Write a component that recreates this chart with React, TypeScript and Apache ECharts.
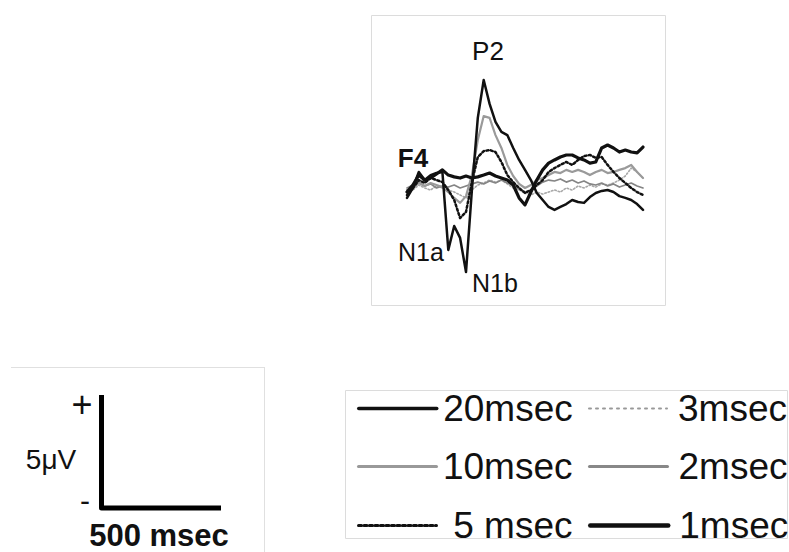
import React, { useEffect, useRef } from 'react';
import * as echarts from 'echarts';

const FONT = '"Liberation Sans", Arial, Helvetica, sans-serif';

// time axis (ms), shared by all traces
const TIMES = [-100, -75, -50, -25, 0, 25, 50, 75, 100, 125, 150, 175, 200, 225, 250, 275, 300, 325, 350, 375, 400, 425, 450, 475, 500, 525, 550, 575, 600, 625, 650, 675, 700, 725, 750, 775, 800, 825, 850, 875, 900];

// amplitudes (µV), positive up
const V20 = [-0.66, -0.22, 0.49, 0.13, 0.35, 0.44, 0.49, -2.96, -1.9, -2.43, -3.94, -0.31, 2.88, 4.56, 3.5, 2.7, 2.26, 2.12, 1.55, 1.02, 0.58, 0.13, -0.44, -0.75, -1.06, -1.19, -1.06, -0.93, -0.75, -0.84, -0.88, -0.62, -0.44, -0.35, -0.31, -0.4, -0.58, -0.66, -0.75, -0.93, -1.19];
const V10 = [-0.31, -0.22, 0, -0.13, 0, -0.09, -0.18, -0.4, -0.66, -0.88, -0.58, 0.35, 1.9, 2.96, 2.88, 2.12, 1.55, 0.8, 0.31, -0.04, -0.22, -0.09, 0.13, 0.22, 0.35, 0.49, 0.44, 0.58, 0.49, 0.58, 0.49, 0.35, 0.49, 0.58, 0.44, 0.49, 0.58, 0.66, 0.8, 0.49, 0.22];
const V5 = [-0.53, -0.22, 0.13, 0, 0.22, 0.13, 0.04, -0.31, -0.75, -1.55, -1.28, 0.04, 1.15, 1.41, 1.46, 1.37, 0.93, 0.35, 0.04, -0.22, -0.44, -0.31, -0.09, 0.13, 0.49, 0.66, 0.8, 0.93, 0.8, 1.02, 1.19, 1.24, 1.11, 1.15, 0.8, 0.49, 0.22, 0, -0.22, -0.4, -0.53];
const V3 = [-0.44, -0.31, -0.09, -0.22, -0.31, -0.13, -0.22, -0.31, -0.4, -0.53, -0.66, -0.31, -0.09, 0, 0.13, 0.04, 0.13, -0.04, -0.22, -0.31, -0.44, -0.53, -0.4, -0.49, -0.4, -0.31, -0.4, -0.22, -0.31, -0.13, -0.22, -0.09, -0.18, -0.04, -0.09, 0, 0.13, 0.31, 0.66, 0.49, 0.22];
const V2 = [-0.22, -0.09, 0.04, -0.13, -0.04, -0.22, -0.13, -0.18, -0.09, -0.22, -0.13, -0.04, 0.04, -0.04, 0.09, 0, 0.13, 0, -0.09, -0.27, -0.4, -0.31, -0.13, 0.04, 0.13, 0.09, 0.18, 0.04, 0.13, 0, 0.09, -0.04, -0.09, 0, -0.13, -0.04, -0.18, -0.09, 0, -0.13, -0.22];
const V1 = [-0.4, -0.09, 0.35, 0.13, 0.22, 0.4, 0.58, 0.35, 0.27, 0.22, 0.31, 0.22, 0.27, 0.35, 0.44, 0.31, 0.22, 0.13, -0.09, -0.66, -0.97, -0.4, 0.13, 0.58, 0.88, 1.02, 1.15, 1.24, 1.24, 1.11, 1.02, 0.88, 0.93, 1.55, 1.68, 1.55, 1.37, 1.46, 1.37, 1.33, 1.59];

const NAMES = ['20msec', '3msec', '10msec', '2msec', '5 msec', '1msec'];

const pairs = (vals: number[]) => TIMES.map((t, i) => [t, vals[i]]);

export default function App() {
  const ref = useRef<HTMLDivElement>(null);

  useEffect(() => {
    if (!ref.current) return;
    const chart = echarts.init(ref.current, null, { renderer: 'svg' });

    const traces = [
      { name: NAMES[1], data: V3, color: '#a8a8a8', width: 1.6, type: [1.5, 2] as any },
      { name: NAMES[3], data: V2, color: '#858585', width: 1.7, type: 'solid' as any },
      { name: NAMES[2], data: V10, color: '#9a9a9a', width: 2.2, type: 'solid' as any },
      { name: NAMES[4], data: V5, color: '#111', width: 2.5, type: [2, 2.5] as any },
      { name: NAMES[0], data: V20, color: '#111', width: 2.5, type: 'solid' as any },
      { name: NAMES[5], data: V1, color: '#111', width: 3.2, type: 'solid' as any },
    ];

    const legendSpec = [
      { name: NAMES[0], left: 357, top: 390, tw: 131, color: '#111', width: 3.5, type: 'solid' as any },
      { name: NAMES[2], left: 357, top: 448, tw: 131, color: '#999', width: 3, type: 'solid' as any },
      { name: NAMES[4], left: 357, top: 507, tw: 131, color: '#111', width: 3, type: [3, 2.5] as any },
      { name: NAMES[1], left: 588, top: 390, tw: 115, color: '#999', width: 2, type: [2, 5] as any },
      { name: NAMES[3], left: 588, top: 448, tw: 115, color: '#888', width: 3, type: 'solid' as any },
      { name: NAMES[5], left: 588, top: 507, tw: 115, color: '#111', width: 4.5, type: 'solid' as any },
    ];

    const txt = (text: string, x: number, y: number, size: number, bold = false) => ({
      type: 'text',
      x,
      y,
      silent: true,
      style: {
        text,
        fill: '#111',
        fontSize: size,
        fontWeight: bold ? 'bold' : 'normal',
        fontFamily: FONT,
        align: 'center',
        verticalAlign: 'middle',
        textAlign: 'center',
        textVerticalAlign: 'middle',
      },
    });

    chart.setOption({
      animation: false,
      backgroundColor: '#fff',
      grid: { left: 407, top: 70, width: 236, height: 226, containLabel: false },
      xAxis: { type: 'value', min: -100, max: 900, show: false },
      yAxis: { type: 'value', min: -5, max: 5, show: false },
      legend: legendSpec.map((l) => ({
        data: [l.name],
        left: l.left,
        top: l.top,
        padding: 0,
        itemWidth: 78,
        itemHeight: 40,
        selectedMode: false,
        itemStyle: { opacity: 0 },
        lineStyle: { color: l.color, width: l.width, type: l.type },
        formatter: '{a|{name}}',
        textStyle: {
          rich: {
            a: {
              width: l.tw,
              align: 'right',
              fontSize: 37,
              lineHeight: 40,
              fontFamily: FONT,
              color: '#111',
            },
          },
        },
      })),
      series: traces.map((s) => ({
        name: s.name,
        type: 'line',
        data: pairs(s.data),
        symbol: 'none',
        smooth: false,
        silent: true,
        lineStyle: { color: s.color, width: s.width, type: s.type, join: 'round', cap: 'round' },
        itemStyle: { color: s.color },
        z: 2,
      })),
      graphic: [
        { type: 'rect', silent: true, shape: { x: 371.5, y: 15.5, width: 294, height: 290 }, style: { fill: 'none', stroke: '#dcdcdc', lineWidth: 1 } },
        { type: 'rect', silent: true, shape: { x: 345.5, y: 390.5, width: 442, height: 148 }, style: { fill: 'none', stroke: '#dcdcdc', lineWidth: 1 } },
        { type: 'line', silent: true, shape: { x1: 11, y1: 367.5, x2: 264.5, y2: 367.5 }, style: { stroke: '#e0e0e0', lineWidth: 1 } },
        { type: 'line', silent: true, shape: { x1: 264.5, y1: 367, x2: 264.5, y2: 552 }, style: { stroke: '#e0e0e0', lineWidth: 1 } },
        {
          type: 'polyline',
          silent: true,
          shape: { points: [[101.5, 395], [101.5, 508], [221, 508]] },
          style: { stroke: '#000', lineWidth: 5, fill: 'none', lineJoin: 'round' },
        },
        txt('P2', 488, 51, 26),
        txt('F4', 413, 158, 26, true),
        txt('N1a', 421, 252, 25),
        txt('N1b', 495, 283, 25),
        txt('+', 82, 404, 36),
        txt('-', 85, 500, 30),
        txt('5\u03bcV', 51, 459, 28),
        txt('500 msec', 159, 535, 31, true),
      ],
    });

    return () => chart.dispose();
  }, []);

  return (
    <div
      ref={ref}
      style={{ position: 'fixed', left: 0, top: 0, width: 789, height: 552, background: '#fff' }}
    />
  );
}
